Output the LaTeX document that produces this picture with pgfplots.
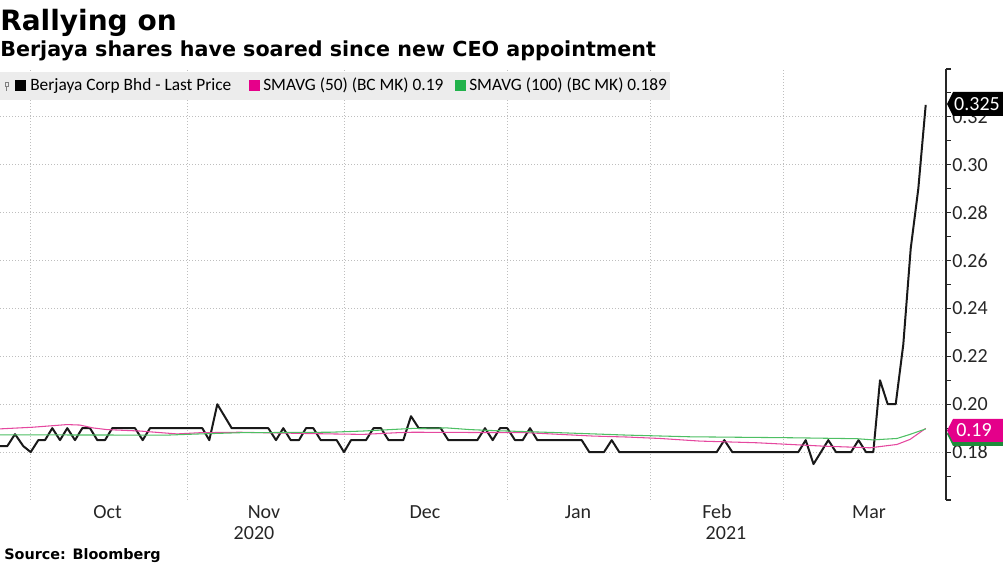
\documentclass[border=0pt]{standalone}
\usepackage{pgfplots}
\pgfplotsset{compat=1.18}
\usepackage{fontspec}
\setmainfont{Carlito}
\newfontfamily\djv{DejaVu Sans}
\definecolor{smaM}{HTML}{E5489F}
\definecolor{smaMsq}{HTML}{E6008A}
\definecolor{smaG}{HTML}{4DBF63}
\definecolor{smaGsq}{HTML}{21B24B}
\definecolor{gridc}{HTML}{BEBEBE}
\definecolor{leggray}{HTML}{ECECEC}
\definecolor{tagM}{HTML}{E4008A}
\definecolor{tagG}{HTML}{1E8C3A}
\begin{document}
\begin{tikzpicture}
\useasboundingbox (0,-48pt) rectangle (752.25pt,375pt);
\begin{axis}[
  at={(0pt,0pt)}, anchor=south west,
  scale only axis, width=709.5pt, height=323.25pt,
  xmin=0, xmax=946, ymin=0.16, ymax=0.34,
  axis x line*=bottom, axis y line*=right,
  axis line style={-},
  x axis line style={draw=none},
  y axis line style={draw=black!85, line width=1.1pt},
  ytick={0.18,0.20,0.22,0.24,0.26,0.28,0.30,0.32},
  minor ytick={0.16,0.17,0.19,0.21,0.23,0.25,0.27,0.29,0.31,0.33,0.34},
  tick align=outside, major tick length=3.5pt, minor tick length=3.5pt,
  ytick style={draw=black!85, line width=0.8pt},
  yticklabel style={anchor=west, inner xsep=1pt, font=\fontsize{15}{18}\selectfont, text=black!85},
  /pgf/number format/.cd, fixed, fixed zerofill, precision=2, assume math mode=true, /pgfplots/.cd,
  ymajorgrids=true,
  major grid style={gridc, dash pattern=on 0.75pt off 1.5pt, line width=0.6pt},
  xtick={107.6,264,425,578,717,869},
  xticklabels={Oct,Nov,Dec,Jan,Feb,Mar},
  xtick style={draw=none},
  xticklabel style={anchor=base, inner sep=0pt, font=\fontsize{15}{18}\selectfont, text=black!85, yshift=-10pt},
  extra x ticks={30,187,344,507,650,783},
  extra x tick labels={},
  extra x tick style={xmajorgrids=true, xtick style={draw=none}},
  clip=false,
]
\addplot[black!90, line width=1.5pt, line join=round] coordinates {
(0,0.1825)(7.3,0.1825)(15,0.1875)(23.3,0.1825)(30.7,0.18)(38.3,0.185)(45,0.185)(52.3,0.19)(60,0.185)(67.3,0.19)(75,0.185)(82.3,0.19)(90,0.19)(97.3,0.185)(105,0.185)(112.3,0.19)(135,0.19)(142.7,0.185)(150,0.19)(202.3,0.19)(209.3,0.185)(217.3,0.20)(231.7,0.19)(268.3,0.19)(276,0.185)(283.3,0.19)(290.7,0.185)(299,0.185)(306,0.19)(313.3,0.19)(320.7,0.185)(336.7,0.185)(344,0.18)(351,0.185)(366,0.185)(373.5,0.19)(381,0.19)(388.5,0.185)(403.3,0.185)(411,0.195)(418.7,0.19)(440.7,0.19)(448.3,0.185)(477.3,0.185)(485,0.19)(492.7,0.185)(500,0.19)(507.3,0.19)(515,0.185)(522.7,0.185)(530,0.19)(537.3,0.185)(581.7,0.185)(589.3,0.18)(604,0.18)(611.7,0.185)(619.3,0.18)(716.7,0.18)(724.3,0.185)(732.3,0.18)(798.3,0.18)(805.7,0.185)(813.5,0.175)(828.3,0.185)(836,0.18)(851,0.18)(858.5,0.185)(866,0.18)(873.3,0.18)(880,0.21)(887.7,0.20)(895.7,0.20)(903.3,0.225)(910.7,0.265)(918.3,0.29)(925.7,0.325)
};
\addplot[smaM, line width=0.8pt] coordinates {
(0,0.1897)(33,0.1904)(67,0.1915)(80,0.1913)(93,0.1901)(107,0.1894)(140,0.1888)(177,0.1876)(200,0.1881)(240,0.1883)(263,0.1881)(330,0.1876)(363,0.1874)(397,0.1881)(413,0.1883)(470,0.1882)(493,0.1882)(527,0.1881)(560,0.1874)(593,0.1867)(627,0.1863)(660,0.1857)(700,0.1846)(757,0.1839)(823,0.1825)(870,0.1818)(897,0.1832)(910,0.1853)(925.7,0.1899)
};
\addplot[smaG, line width=0.8pt] coordinates {
(0,0.1872)(167,0.1871)(200,0.1876)(240,0.1881)(330,0.1883)(363,0.1888)(413,0.1899)(447,0.1901)(470,0.1894)(493,0.1890)(560,0.1881)(627,0.1871)(690,0.1864)(790,0.1860)(857,0.1856)(873,0.1851)(897,0.1857)(910,0.1874)(925.7,0.1897)
};
\end{axis}
\begin{scope}[x=0.75pt, y=-0.75pt, yshift=375pt]
% titles
\node[anchor=base west, inner sep=0pt, font=\djv\bfseries\fontsize{21}{24}\selectfont] at (0,31) {Rallying on};
\node[anchor=base west, inner sep=0pt, font=\djv\bfseries\fontsize{15.5}{18}\selectfont] at (0,57) {Berjaya shares have soared since new CEO appointment};
% legend
\fill[leggray] (0,72) rectangle (670,100);
\draw[gray, line width=0.5pt] (5,82) rectangle (8,86) (6.5,86) -- (6.5,91);
\fill[black] (15,80.5) rectangle (26,91.5);
\node[anchor=base west, inner sep=0pt, font=\fontsize{13}{15}\selectfont] at (30,91) {Berjaya Corp Bhd - Last Price};
\fill[smaMsq] (249,80.5) rectangle (260,91.5);
\node[anchor=base west, inner sep=0pt, font=\fontsize{13}{15}\selectfont] at (263,91) {SMAVG (50) (BC MK) 0.19};
\fill[smaGsq] (455,80.5) rectangle (466,91.5);
\node[anchor=base west, inner sep=0pt, font=\fontsize{13}{15}\selectfont] at (469,91) {SMAVG (100) (BC MK) 0.189};
% value tags
\fill[black] (947,104) -- (953,92) -- (1003,92) -- (1003,116) -- (953,116) -- cycle;
\node[anchor=center, inner sep=0pt, text=white, font=\fontsize{15}{18}\selectfont] at (977,104) {0.325};
\fill[tagG] (947,434) -- (953,423) -- (1003,423) -- (1003,446) -- (953,446) -- cycle;
\fill[tagM] (947,430.5) -- (953,419) -- (1003,419) -- (1003,442) -- (953,442) -- cycle;
\node[anchor=west, inner sep=0pt, text=white, font=\fontsize{15}{18}\selectfont] at (956,430.5) {0.19};
% year labels and source
\node[anchor=base, inner sep=0pt, text=black!85, font=\fontsize{15}{18}\selectfont] at (254,540) {2020};
\node[anchor=base, inner sep=0pt, text=black!85, font=\fontsize{15}{18}\selectfont] at (726,540) {2021};
\node[anchor=base west, inner sep=0pt, font=\djv\bfseries\fontsize{10.8}{13}\selectfont] at (4,559) {Source: Bloomberg};
\end{scope}
\end{tikzpicture}
\end{document}
